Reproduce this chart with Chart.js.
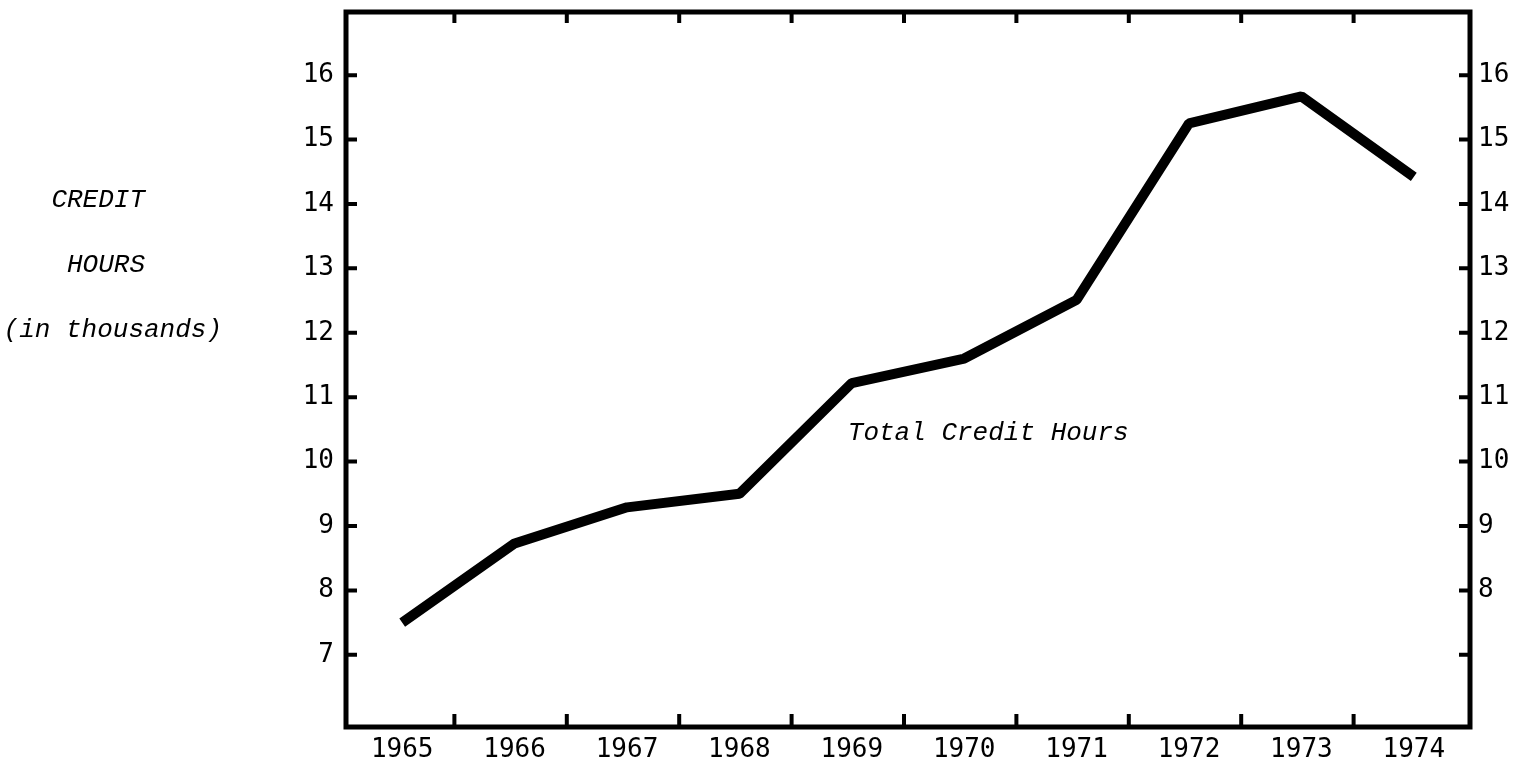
<!DOCTYPE html>
<html lang="en">
<head>
    <meta charset="UTF-8">
    <title>Total Credit Hours 1965-1974</title>
    <script src="https://cdn.jsdelivr.net/npm/chart.js"></script>
    <style>
        body { margin: 0; background: #fff; }
        #wrap { width: 1520px; height: 764px; }
    </style>
</head>
<body>
    <div id="wrap"><canvas id="hoursChart" width="1520" height="764"></canvas></div>

    <script>
        // data (thousands of credit hours)
        const years = ['1965', '1966', '1967', '1968', '1969', '1970', '1971', '1972', '1973', '1974'];
        const creditHours = [7.5, 8.73, 9.29, 9.5, 11.22, 11.6, 12.51, 15.25, 15.67, 14.42];
        const yTicks = [7, 8, 9, 10, 11, 12, 13, 14, 15, 16];
        const rightLabelled = [8, 9, 10, 11, 12, 13, 14, 15, 16];
        const sideTitle = ['CREDIT', 'HOURS', '(in thousands)'];
        const seriesLabel = 'Total Credit Hours';

        const tickFont = { family: 'DejaVu Sans Mono', size: 26 };
        const noteFont = 'italic 26px "Liberation Mono"';

        // box, inward tick marks and the typed notes
        const frame = {
            id: 'frame',
            afterDraw(chart) {
                const ctx = chart.ctx;
                const a = chart.chartArea;
                const x = chart.scales.x, y = chart.scales.y;
                ctx.save();
                ctx.strokeStyle = '#000';
                ctx.lineWidth = 4;
                ctx.beginPath();
                yTicks.forEach(v => {
                    const py = y.getPixelForValue(v);
                    ctx.moveTo(a.left, py); ctx.lineTo(a.left + 11, py);
                    ctx.moveTo(a.right, py); ctx.lineTo(a.right - 11, py);
                });
                for (let i = 1; i < years.length; i++) {
                    const px = (x.getPixelForValue(i - 1) + x.getPixelForValue(i)) / 2 - 4;
                    ctx.moveTo(px, a.bottom); ctx.lineTo(px, a.bottom - 13);
                    ctx.moveTo(px, a.top); ctx.lineTo(px, a.top + 11);
                }
                ctx.stroke();
                ctx.lineWidth = 5;
                ctx.strokeRect(a.left, a.top, a.right - a.left, a.bottom - a.top);

                ctx.fillStyle = '#000';
                ctx.font = noteFont;
                ctx.textBaseline = 'middle';
                ctx.textAlign = 'left';
                ctx.fillText(seriesLabel, x.getPixelForValue(4) - 4, y.getPixelForValue(10.45));
                ctx.textAlign = 'right';
                ctx.fillText(sideTitle[0], 145, 200);
                ctx.fillText(sideTitle[1], 145, 265);
                ctx.fillText(sideTitle[2], 222, 330);
                ctx.restore();
            }
        };

        const fixTicks = axis => { axis.ticks = yTicks.map(v => ({ value: v })); };
        const noPad = axis => {
            axis.paddingTop = 0; axis.paddingBottom = 0;
            axis.paddingLeft = 0; axis.paddingRight = 0;
        };

        new Chart(document.getElementById('hoursChart'), {
            type: 'line',
            data: {
                labels: years,
                datasets: [{
                    label: seriesLabel,
                    data: creditHours,
                    borderColor: '#000',
                    borderWidth: 10,
                    borderJoinStyle: 'bevel',
                    pointRadius: 0,
                    tension: 0,
                    fill: false
                }]
            },
            options: {
                responsive: false,
                animation: false,
                layout: { padding: { top: 12, left: 0, right: 0, bottom: 0 } },
                plugins: { legend: { display: false }, tooltip: { enabled: false } },
                scales: {
                    x: {
                        offset: true,
                        grid: { display: false },
                        border: { display: false },
                        ticks: { color: '#000', font: tickFont, padding: 0, maxRotation: 0 },
                        afterFit: axis => { axis.height = 37; noPad(axis); }
                    },
                    y: {
                        position: 'left',
                        min: 5.88, max: 16.98,
                        grid: { display: false },
                        border: { display: false },
                        afterBuildTicks: fixTicks,
                        ticks: { color: '#000', font: tickFont, padding: 4 },
                        afterFit: axis => { axis.width = 346; noPad(axis); }
                    },
                    y2: {
                        position: 'right',
                        min: 5.88, max: 16.98,
                        grid: { display: false },
                        border: { display: false },
                        afterBuildTicks: fixTicks,
                        ticks: {
                            color: '#000', font: tickFont, padding: 0,
                            callback: v => rightLabelled.includes(v) ? String(v) : ''
                        },
                        afterFit: axis => { axis.width = 50; noPad(axis); }
                    }
                }
            },
            plugins: [frame]
        });
    </script>
</body>
</html>
